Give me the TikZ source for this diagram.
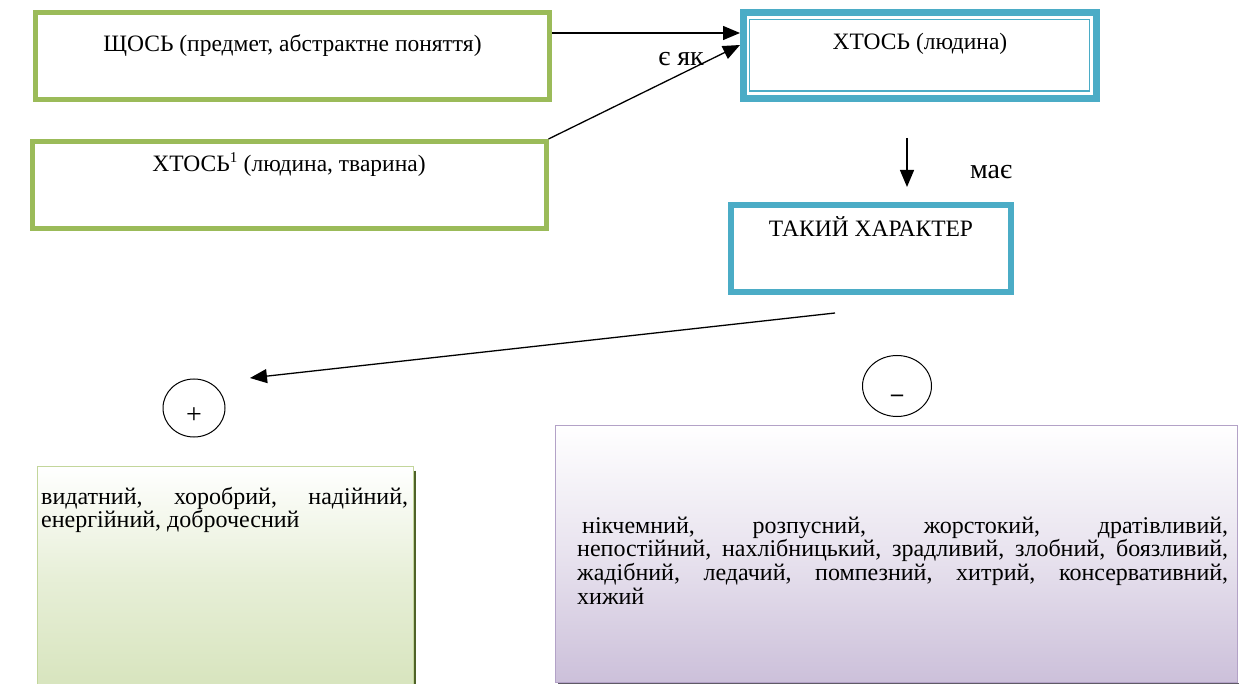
\documentclass[tikz,border=0pt]{standalone}
\usepackage{fontspec}
\setmainfont{Liberation Serif}
\usetikzlibrary{arrows.meta, shapes.geometric}

\definecolor{boxgreen}{HTML}{9BBB59}
\definecolor{boxteal}{HTML}{4BACC6}
\definecolor{posline}{HTML}{C3D69B}
\definecolor{posfill}{HTML}{D7E4BD}
\definecolor{posshadow}{HTML}{4F6228}
\definecolor{negline}{HTML}{B3A2C7}
\definecolor{negfill}{HTML}{CCC0DA}
\definecolor{negshadow}{HTML}{5F5A66}

\begin{document}
\begin{tikzpicture}[x=1pt, y=-1pt,
    every node/.style={font=\fontsize{23.5}{24}\selectfont, inner sep=0pt},
    greenbox/.style={draw=boxgreen, line width=5pt, minimum width=514pt, minimum height=87pt},
    tealbox/.style={draw=boxteal, line width=7pt, minimum width=353pt, minimum height=86pt},
    charbox/.style={draw=boxteal, line width=6pt, minimum width=280pt, minimum height=87pt},
    sign/.style={draw, ellipse, line width=1pt, text depth=0pt},
    link/.style={-{Triangle[length=17pt, width=14pt]}, line width=1.3pt},
    linklabel/.style={font=\fontsize{28}{28}\selectfont},
    listtext/.style={anchor=base west, align=justify, font=\fontsize{24}{23.7}\selectfont}]
    \useasboundingbox (0,0) rectangle (1239,684);

    % top row
    \node[greenbox, text height=39.5pt, text depth=47.5pt] (thing) at (292.5,56) {ЩОСЬ (предмет, абстрактне поняття)};
    \node[greenbox, text height=30.5pt, text depth=56.5pt] (someone) at (289,185) {ХТОСЬ\textsuperscript{\fontsize{15}{15}\selectfont 1} (людина, тварина)};
    \node[tealbox, text height=37.5pt, text depth=48.5pt] (person) at (920,55.5) {ХТОСЬ (людина)};
    \draw[boxteal, line width=1.5pt] ([shift={(9.5pt,-10.5pt)}]person.north west) rectangle ([shift={(-10.5pt,11pt)}]person.south east);

    \draw[link] ([yshift=23pt]thing.east) -- ([yshift=22.5pt]person.west);
    \draw[link] (someone.north east) -- ([yshift=10.5pt]person.west);
    \node[linklabel] (isas) at (681,59) {є як};

    % has
    \coordinate (hasfrom) at (907,138);
    \coordinate (hasto) at (907,187);
    \draw[link] (hasfrom) -- (hasto);
    \node[linklabel] (has) at (991,172) {має};

    \node[charbox, text height=32pt, text depth=55pt] (character) at (871,248.5) {ТАКИЙ ХАРАКТЕР};

    \coordinate (charfrom) at (835,313);
    \coordinate (charto) at (250,378);
    \draw[link] (charfrom) -- (charto);

    % + and -
    \node[sign, text height=30pt, minimum width=62pt, minimum height=58pt, font=\fontsize{28}{28}\selectfont] (plus) at (194,408) {+};
    \node[sign, text height=30pt, minimum width=69pt, minimum height=61pt, font=\fontsize{24}{24}\bfseries] (minus) at (897,386) {–};

    % positive traits
    \node[draw=posline, line width=1pt, minimum width=376pt, minimum height=224pt, top color=white, bottom color=posfill, middle color=posfill!60] (pos) at (225,578) {};
    \draw[posshadow, line width=2.5pt] ([shift={(1.5pt,-5pt)}]pos.north east) -- ([xshift=1.5pt]pos.south east);
    \node[listtext, text width=367pt] (postext) at (41,504) {видатний, хоробрий, надійний,\linebreak енергійний, доброчесний};

    % negative traits
    \node[draw=negline, line width=1pt, minimum width=682pt, minimum height=257pt, top color=white, bottom color=negfill, middle color=negfill!45] (neg) at (896,553.5) {};
    \draw[negshadow, line width=1.5pt] ([shift={(2pt,-3pt)}]neg.north east) -- ([shift={(2pt,-1pt)}]neg.south east) -- ([shift={(3pt,-1pt)}]neg.south west);
    \node[listtext, text width=651pt] (negtext) at (577,533) {\kern5pt нікчемний, розпусний, жорстокий, дратівливий,\linebreak непостійний, нахлібницький, зрадливий, злобний, боязливий,\linebreak жадібний, ледачий, помпезний, хитрий, консервативний,\linebreak хижий};
\end{tikzpicture}
\end{document}
